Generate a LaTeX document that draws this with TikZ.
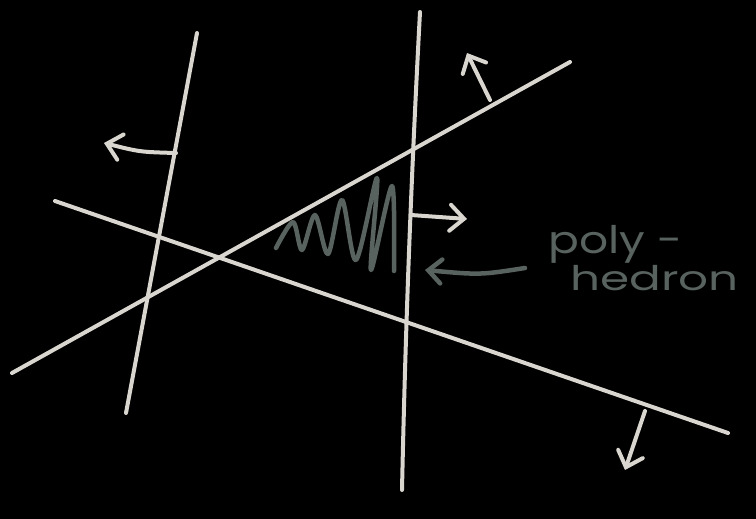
\documentclass[tikz,border=0pt]{standalone}
\usepackage{fontspec}
\setmainfont{Poppins}
\usepackage{xcolor}
\usetikzlibrary{arrows.meta,calc}

\definecolor{chalk}{HTML}{D9D6CF}
\definecolor{slate}{HTML}{58625F}

\begin{document}
\begin{tikzpicture}[x=1pt,y=-1pt,
    plane/.style={chalk, line width=4pt, line cap=round},
    normal/.style={plane, -{Straight Barb[length=14pt,width=26pt,line cap=round]}},
    hint/.style={slate, line width=4.5pt, line cap=round, line join=round}]
    % Background
    \fill[black] (0,0) rectangle (756,519);
    \useasboundingbox (0,0) rectangle (756,519);

    % Half-planes
    \draw[plane] (197,33) -- (126,413);
    \draw[plane] (420,12) .. controls (410,200) and (405,350) .. (402,490);
    \draw[plane] (12,373) -- (570,62);
    \draw[plane] (55,201) -- (728,433);

    % Normals
    \draw[normal] (176,153) .. controls (140,152) .. (104,143);
    \draw[normal] (411,215) -- (467,219);
    \draw[normal] (490,100) -- (467,53);
    \draw[normal] (645,411) -- (625,470);

    % Shading of the polyhedron
    \draw[hint] plot[smooth, tension=0.5] coordinates {
        (276,248) (293,222) (302,250) (315,215) (328,254) (342,200)
        (356,260) (377,178) (371,270) (392,186) (394,271)};

    % Label
    \draw[hint, -{Straight Barb[length=13pt,width=24pt,line cap=round]}]
        (525,268) .. controls (480,275) .. (425,270);
    \node[slate, anchor=base west, font=\fontsize{38}{40}\selectfont, inner sep=0pt]
        (poly) at (548,253) {\scalebox{1.2}[1]{poly -}};
    \node[slate, anchor=base west, font=\fontsize{34}{36}\selectfont, inner sep=0pt]
        (hedron) at (570,290) {\scalebox{1.38}[1]{hedron}};
\end{tikzpicture}
\end{document}
